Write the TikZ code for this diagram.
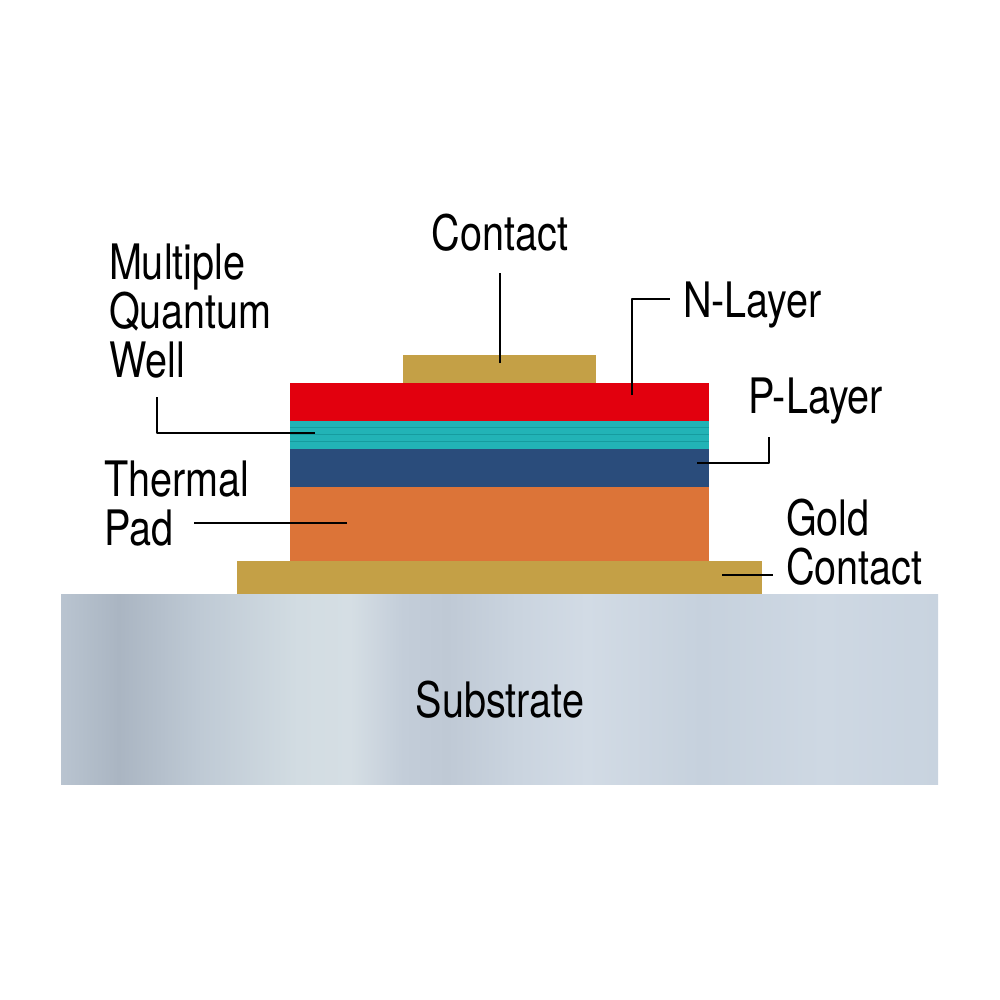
\documentclass[tikz,border=0pt]{standalone}
\usepackage{fontspec}
\setmainfont{TeX Gyre Heros}[FakeStretch=0.81]
\usetikzlibrary{positioning,calc}
\definecolor{goldc}{HTML}{C4A046}
\definecolor{nred}{HTML}{E2000E}
\definecolor{mqwteal}{HTML}{22B3B6}
\definecolor{mqwdark}{HTML}{169C9F}
\definecolor{pblue}{HTML}{2A4C7B}
\definecolor{padorange}{HTML}{DC7438}
\definecolor{subA}{HTML}{B9C4D0}
\definecolor{subB}{HTML}{AAB5C2}
\definecolor{subC}{HTML}{BFCAD5}
\definecolor{subD}{HTML}{D2DCE2}
\definecolor{subE}{HTML}{D5DEE4}
\definecolor{subF}{HTML}{C3CDD9}
\definecolor{subG}{HTML}{BFC9D5}
\definecolor{subH}{HTML}{CAD4DF}
\definecolor{subI}{HTML}{D2DBE5}
\definecolor{subJ}{HTML}{C6D1DD}
\definecolor{subK}{HTML}{CED8E3}
\definecolor{subL}{HTML}{C8D3DF}
\pgfdeclarehorizontalshading{substrateshade}{100bp}{color(0bp)=(subA); color(25bp)=(subA);
  color(28.3bp)=(subB); color(33bp)=(subC); color(38.5bp)=(subD); color(41.5bp)=(subE);
  color(44.5bp)=(subF); color(47bp)=(subG); color(51bp)=(subH); color(55bp)=(subI);
  color(61.5bp)=(subJ); color(68.5bp)=(subK); color(75bp)=(subL); color(100bp)=(subL)}
\tikzset{
  lbl/.style={inner sep=3.5pt, align=left},
  lead/.style={line width=0.7pt, black}
}
\begin{document}
\begin{tikzpicture}[x=0.01cm, y=-0.01cm, font=\fontsize{13.9}{13.9}\selectfont, line join=round, line cap=butt]
  \useasboundingbox (0,0) rectangle (1000,1000);
  % substrate and stack
  \shade[shading=substrateshade] (61,594) rectangle (938,784);
  \fill[goldc] (237,561) rectangle (762,594);
  \fill[padorange] (290,487) rectangle (709,561);
  \fill[pblue] (290,449) rectangle (709,487);
  \fill[mqwteal] (290,421) rectangle (709,449);
  \foreach \y in {427.5,434.5,441.5}
    \draw[mqwdark, line width=0.5pt] (290,\y) -- (709,\y);
  \fill[nred] (290,383) rectangle (709,421);
  \fill[goldc] (403,355) rectangle (596,383);
  % where the leads end
  \coordinate (cTop) at (500,363);
  \coordinate (cN) at (632,395);
  \coordinate (cP) at (697,463);
  \coordinate (cM) at (315,433);
  \coordinate (cT) at (347,523);
  \coordinate (cG) at (722,575);
  % labels
  \node[lbl, anchor=base] (contact) at (500,250) {Contact};
  \node[lbl, anchor=base west, text depth=0pt] (nlab) at (670,317) {N-Layer};
  \node[lbl, anchor=base west] (plab) at (735,413) {P-Layer};
  \node[lbl, anchor=north west] (mqw) at (96,231) {Multiple\\Quantum\\Well};
  \node[lbl, anchor=north west] (tlab) at (91,448) {Thermal\\Pad};
  \node[lbl, anchor=north west] (glab) at (773,486) {Gold\\Contact};
  \node (sub) at (500,700) {Substrate};
  % leads
  \draw[lead] (cTop) -- ($(contact.south)+(0,9)$);
  \draw[lead] (cN) |- (nlab.west);
  \draw[lead] (cP) -| ($(plab.south west)+(34,0)$);
  \draw[lead] (cM) -| ($(mqw.south west)+(61,6)$);
  \draw[lead, shorten >=5pt] (cT) -- (cT -| tlab.south);
  \draw[lead] (cG) -- (cG -| glab.west);
\end{tikzpicture}
\end{document}
